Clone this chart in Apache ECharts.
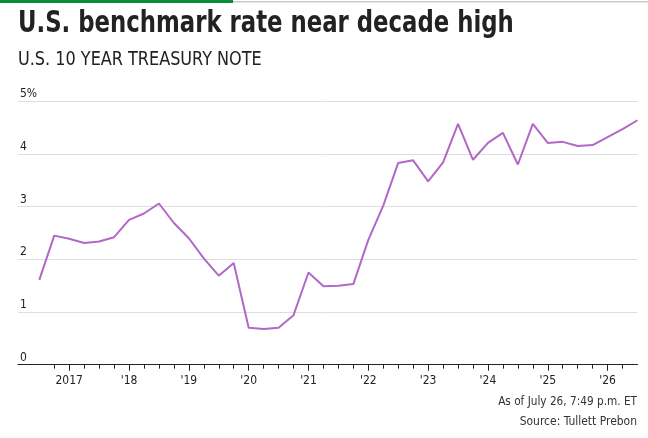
<!DOCTYPE html>
<html>
<head>
<meta charset="utf-8">
<script src="https://cdn.jsdelivr.net/npm/echarts@6/dist/echarts.min.js"></script>
<style>
html,body{margin:0;padding:0;background:#fff;}
#chart{width:648px;height:438px;}
</style>
</head>
<body>
<div id="chart"></div>
<script>
// Quarterly observation dates (decimal years) and 10-year Treasury yields (%)
const quarters = [
  2016.5, 2016.75, 2017.0, 2017.25, 2017.5, 2017.75, 2018.0, 2018.25, 2018.5, 2018.75,
  2019.0, 2019.25, 2019.5, 2019.75, 2020.0, 2020.25, 2020.5, 2020.75, 2021.0, 2021.25,
  2021.5, 2021.75, 2022.0, 2022.25, 2022.5, 2022.75, 2023.0, 2023.25, 2023.5, 2023.75,
  2024.0, 2024.25, 2024.5, 2024.75, 2025.0, 2025.25, 2025.5, 2025.75, 2026.0, 2026.25,
  2026.5
];
const yields = [
  1.61, 2.45, 2.39, 2.31, 2.34, 2.42, 2.75, 2.87, 3.06, 2.69,
  2.40, 2.02, 1.69, 1.93, 0.70, 0.68, 0.70, 0.94, 1.75, 1.49,
  1.50, 1.53, 2.37, 3.02, 3.83, 3.88, 3.48, 3.84, 4.57, 3.89,
  4.21, 4.40, 3.80, 4.57, 4.21, 4.23, 4.15, 4.17, 4.32, 4.47,
  4.64
];
const yearTicks = [2017, 2018, 2019, 2020, 2021, 2022, 2023, 2024, 2025, 2026];
const yearLabels = ['2017', "'18", "'19", "'20", "'21", "'22", "'23", "'24", "'25", "'26"];
const quarterTicks = [];
for (let y = 2016; y <= 2026; y++) {
  for (const q of [0, 0.25, 0.5, 0.75]) {
    const v = y + q;
    if (v >= 2016.75 && v <= 2026.25) quarterTicks.push(v);
  }
}
const yTicks = [0, 1, 2, 3, 4, 5];
const yLabels = ['0', '1', '2', '3', '4', '5%'];

const FONT = "'Liberation Sans Narrow', 'DejaVu Sans Condensed', 'Roboto', sans-serif";
const chart = echarts.init(document.getElementById('chart'), null, {renderer: 'canvas'});

const xMin = 2016.144, xMax = 2026.5;
const lineData = quarters.map((q, i) => [q, yields[i]]);

chart.setOption({
  animation: false,
  backgroundColor: '#fff',
  grid: {left: 18, right: 10.5, top: 101.3, bottom: 73.3, containLabel: false},
  xAxis: [
    {
      type: 'value', min: xMin, max: xMax,
      axisLine: {show: true, lineStyle: {color: '#222', width: 1}},
      axisTick: {show: true, length: 4, lineStyle: {color: '#222', width: 1}, customValues: quarterTicks},
      axisLabel: {show: false},
      splitLine: {show: false}
    },
    {
      type: 'value', min: xMin, max: xMax, position: 'bottom', offset: 0,
      axisLine: {show: false},
      axisTick: {show: true, length: 6, lineStyle: {color: '#222', width: 1}, customValues: yearTicks},
      axisLabel: {
        show: true, margin: 10, color: '#222', fontSize: 12, fontFamily: FONT,
        customValues: yearTicks,
        formatter: v => yearLabels[yearTicks.indexOf(Math.round(v))] || ''
      },
      splitLine: {show: false}
    }
  ],
  yAxis: {
    type: 'value', min: 0, max: 5, interval: 1,
    axisLine: {show: false}, axisTick: {show: false},
    splitLine: {show: true, lineStyle: {color: '#dedede', width: 1}},
    axisLabel: {
      inside: true, margin: 2, color: '#222', fontSize: 12, fontFamily: FONT,
      align: 'left', verticalAlign: 'bottom', padding: [0, 0, 1, 0],
      formatter: v => yLabels[yTicks.indexOf(Math.round(v))] || ''
    }
  },
  series: [{
    type: 'line', xAxisIndex: 0, data: lineData,
    showSymbol: false, symbol: 'none',
    lineStyle: {color: '#b168c6', width: 2},
    z: 5
  }],
  graphic: [
    {type: 'rect', left: 0, top: 0, shape: {width: 233, height: 3}, style: {fill: '#0b8a3c'}},
    {type: 'rect', left: 233, top: 1, shape: {width: 415, height: 1.5}, style: {fill: '#c9c9c9'}},
    {type: 'text', x: 18, y: 24, scaleX: 0.845, style: {text: 'U.S. benchmark rate near decade high', font: "bold 30px " + FONT, fill: '#222', textVerticalAlign: 'middle'}},
    {type: 'text', x: 18, y: 60, scaleX: 0.94, style: {text: 'U.S. 10 YEAR TREASURY NOTE', font: "19px " + FONT, fill: '#222', textVerticalAlign: 'middle'}},
    {type: 'text', x: 637, y: 402, scaleX: 0.9, style: {text: 'As of July 26, 7:49 p.m. ET', font: "13px " + FONT, fill: '#333', textAlign: 'right', textVerticalAlign: 'middle'}},
    {type: 'text', x: 637, y: 422, scaleX: 0.92, style: {text: 'Source: Tullett Prebon', font: "13px " + FONT, fill: '#333', textAlign: 'right', textVerticalAlign: 'middle'}}
  ]
});
</script>
</body>
</html>
